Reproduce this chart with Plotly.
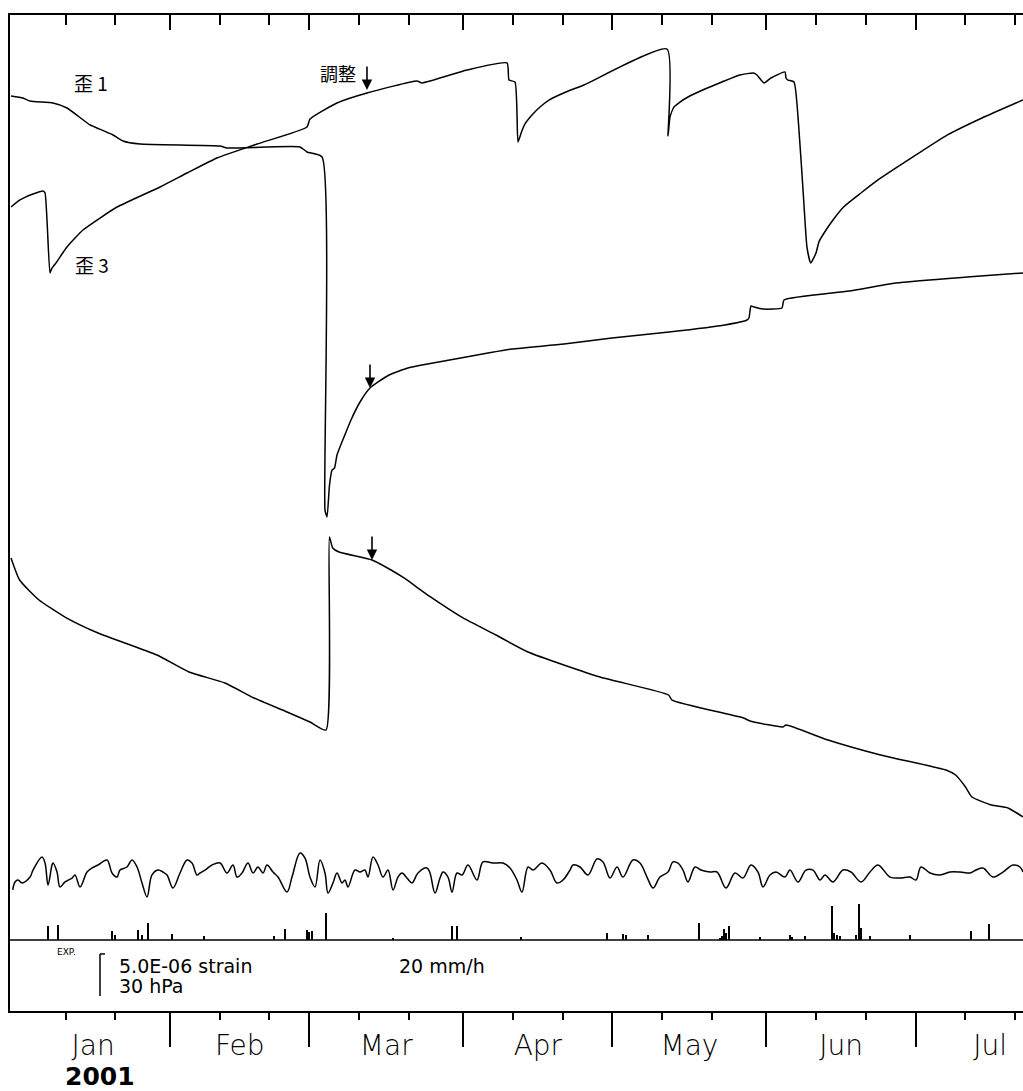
import pandas as pd
import plotly.graph_objects as go

BASE = pd.Timestamp("2001-01-01")

# ---- strain 1 (歪1): days since 2001-01-01, strain in 1e-6 ----
s1_day = [-1.0, 1.41, 2.82, 7.44, 10.26, 14.89, 16.30, 19.52, 21.53, 24.95,
          41.05, 42.45, 57.14, 58.55, 61.57, 62.17, 62.58, 63.08, 63.58, 64.08,
          64.59, 66.00, 67.40, 69.22, 71.23, 75.05, 78.87, 81.69, 94.97, 99.80,
          110.26, 119.92, 131.39, 142.66, 147.08, 147.48, 147.89, 148.49, 150.30, 154.12,
          154.53, 167.61, 177.06, 191.35, 202.62]
s1_val = [108.93, 108.69, 108.33, 108.10, 107.50, 105.48, 105.12, 104.29, 103.57, 103.21,
          102.98, 102.74, 102.86, 102.26, 101.67, 59.64, 58.81, 62.62, 64.40, 64.64,
          66.19, 68.33, 70.36, 72.50, 74.17, 75.71, 76.55, 76.90, 78.33, 78.81,
          79.40, 80.12, 80.83, 81.67, 82.26, 82.50, 83.93, 83.81, 83.57, 83.69,
          84.64, 85.71, 86.67, 87.38, 87.86]

# ---- strain 3 (歪3) ----
s3_day = [-1.0, 0.80, 3.42, 5.43, 5.84, 6.84, 7.24, 8.19, 9.26, 10.26,
          11.87, 13.48, 16.90, 20.32, 28.97, 34.41, 40.44, 48.49, 58.55, 59.15,
          64.59, 70.62, 80.68, 81.69, 90.74, 98.79, 99.20, 100.40, 101.01, 101.71,
          102.41, 103.82, 105.43, 107.24, 110.78, 114.29, 130.99, 131.19, 131.59, 132.39,
          133.60, 135.21, 138.63, 142.05, 145.67, 148.39, 149.09, 150.50, 151.91, 154.73,
          154.93, 155.33, 156.54, 157.44, 158.49, 159.15, 159.90, 160.97, 161.57, 162.98,
          164.39, 166.52, 170.02, 173.44, 180.48, 187.42, 194.37, 202.62]
s3_val = [95.71, 96.55, 97.26, 97.62, 97.38, 87.86, 88.45, 89.17, 90.12, 90.95,
          92.02, 92.98, 94.40, 95.71, 98.10, 99.76, 101.55, 103.21, 105.24, 106.19,
          108.10, 109.29, 110.71, 110.48, 112.02, 112.86, 110.83, 110.60, 103.45, 104.64,
          105.60, 106.67, 107.62, 108.45, 109.44, 110.24, 114.52, 104.17, 106.43, 107.62,
          108.21, 108.81, 109.76, 110.60, 111.43, 111.67, 111.43, 110.48, 111.07, 111.79,
          111.07, 110.83, 110.60, 105.71, 96.55, 90.95, 89.05, 90.24, 91.58, 92.98,
          94.17, 95.71, 97.38, 98.93, 101.67, 104.29, 106.31, 108.45]

# ---- strain 2 (unlabelled third component) ----
s2_day = [-1.0, 0.72, 4.63, 9.86, 16.50, 28.37, 34.81, 42.05, 47.89, 54.53,
          59.15, 62.37, 63.06, 63.72, 64.99, 71.63, 75.45, 78.07, 83.40, 89.94,
          96.58, 103.02, 117.51, 131.31, 131.99, 146.40, 147.69, 154.33, 154.93, 163.38,
          173.96, 187.12, 189.05, 191.05, 192.35, 196.28, 199.60, 202.62]
s2_val = [53.93, 51.31, 48.93, 46.90, 45.00, 42.38, 40.36, 39.05, 37.26, 35.60,
          34.40, 33.45, 56.43, 55.12, 54.64, 53.69, 52.50, 51.55, 49.29, 46.79,
          44.76, 42.74, 39.76, 37.62, 37.02, 34.88, 34.52, 33.81, 34.05, 32.26,
          30.48, 28.69, 28.10, 26.67, 25.48, 24.52, 24.17, 23.10]

# ---- atmospheric pressure, hPa ----
p_day = [-0.66, -0.20, 0.40, 1.21, 2.82, 3.42, 5.23, 5.84, 6.44, 7.24,
         7.44, 8.25, 8.85, 9.86, 11.27, 11.87, 12.88, 14.29, 15.29, 16.50,
         18.31, 19.32, 20.32, 20.93, 22.33, 23.34, 24.35, 25.35, 26.36, 27.36,
         28.57, 29.58, 30.38, 31.59, 33.00, 34.41, 35.41, 36.42, 37.02, 38.03,
         39.44, 41.05, 42.45, 43.66, 44.47, 45.47, 46.68, 47.69, 48.69, 49.70,
         50.50, 51.71, 52.72, 54.53, 55.53, 57.14, 58.15, 59.15, 60.16, 61.17,
         62.17, 62.78, 63.78, 64.59, 65.59, 66.20, 66.80, 68.21, 69.22, 70.22,
         70.82, 71.83, 72.84, 73.84, 74.85, 75.86, 76.86, 77.67, 78.67, 79.68,
         80.89, 82.70, 83.30, 84.31, 85.31, 85.92, 86.92, 87.73, 88.73, 89.74,
         90.95, 92.76, 93.96, 95.98, 97.99, 99.40, 100.80, 101.81, 103.02, 104.02,
         105.84, 107.44, 108.85, 110.06, 111.47, 112.07, 113.48, 115.09, 116.90, 118.11,
         119.52, 120.93, 122.13, 124.14, 125.55, 126.96, 128.17, 129.58, 131.19, 132.19,
         133.20, 134.21, 135.21, 136.62, 137.83, 139.64, 141.05, 142.86, 144.67, 146.28,
         147.89, 149.30, 150.30, 151.71, 152.92, 154.73, 155.73, 157.34, 158.95, 160.36,
         161.77, 162.78, 164.39, 166.40, 168.01, 170.02, 171.83, 173.44, 175.86, 177.87,
         179.88, 181.09, 182.09, 183.90, 185.92, 187.93, 189.94, 191.95, 193.16, 194.57,
         196.58, 198.59, 200.60, 202.01, 202.62]
p_val = [1000.9, 1006.6, 1008.0, 1005.9, 1010.1, 1015.1, 1024.4, 1020.1, 1004.4, 1018.7,
         1020.1, 1013.7, 1003.0, 1006.6, 1009.4, 1011.6, 1003.0, 1013.7, 1016.6, 1018.7,
         1022.3, 1013.0, 1010.1, 1015.1, 1017.3, 1022.3, 1017.3, 1005.9, 995.9, 1011.6,
         1015.1, 1013.7, 1011.6, 1002.3, 1013.0, 1022.3, 1020.1, 1011.6, 1013.0, 1015.1,
         1018.7, 1020.1, 1013.0, 1018.7, 1010.1, 1013.0, 1020.1, 1013.0, 1017.3, 1013.0,
         1018.7, 1013.7, 1010.1, 999.4, 1010.1, 1027.3, 1023.7, 1010.1, 1003.0, 1022.3,
         1013.0, 998.7, 1005.9, 1013.0, 1005.9, 1008.0, 1003.0, 1015.1, 1013.7, 1015.1,
         1010.1, 1024.4, 1018.7, 1010.1, 1015.1, 1000.9, 1010.1, 1013.0, 1009.4, 1005.9,
         1013.0, 1016.6, 1013.0, 998.7, 1009.4, 1013.7, 1010.1, 999.4, 1013.0, 1011.6,
         1018.7, 1008.0, 1020.9, 1020.1, 1020.1, 1016.6, 1008.0, 999.4, 1017.3, 1015.1,
         1020.1, 1015.1, 1005.9, 1008.0, 1015.1, 1018.7, 1017.3, 1011.6, 1023.0, 1020.9,
         1009.4, 1017.3, 1010.1, 1022.3, 1020.1, 1010.1, 1002.3, 1010.1, 1013.7, 1020.9,
         1020.1, 1015.1, 1006.6, 1017.3, 1015.1, 1013.7, 1013.7, 1002.3, 1013.0, 1009.4,
         1018.7, 1013.7, 1003.0, 1011.6, 1013.7, 1010.1, 1015.1, 1006.6, 1015.1, 1015.1,
         1008.0, 1011.6, 1006.6, 1015.1, 1013.7, 1006.6, 1013.7, 1018.7, 1010.1, 1009.4,
         1010.1, 1008.0, 1017.3, 1013.0, 1011.6, 1013.7, 1013.7, 1013.0, 1015.1, 1016.6,
         1010.1, 1013.7, 1018.7, 1017.3, 1013.7]

# ---- rainfall, mm/h ----
r_day = [6.44, 8.45, 19.32, 19.92, 24.55, 25.35, 26.56, 31.39, 37.83, 51.91,
         54.12, 58.55, 58.95, 59.56, 62.37, 75.86, 87.73, 88.73, 101.61, 118.91,
         122.13, 122.74, 127.16, 137.42, 141.65, 142.05, 142.45, 142.86, 143.46, 149.70,
         155.73, 156.14, 158.75, 164.19, 164.59, 165.19, 165.79, 169.01, 169.62, 170.02,
         171.83, 179.88, 192.15, 195.77]
r_val = [6.7, 7.1, 4.3, 2.4, 4.8, 2.4, 8.1, 2.9, 1.9, 1.9,
         5.2, 4.8, 3.8, 4.3, 12.9, 1.0, 6.7, 6.7, 1.4, 3.3,
         2.9, 2.4, 2.4, 8.1, 1.0, 1.9, 5.2, 3.3, 6.7, 1.4,
         2.4, 1.4, 1.9, 16.2, 3.3, 2.4, 1.9, 2.4, 17.1, 5.7,
         1.9, 2.4, 4.3, 7.6]

month_labels_start = "2001-01-01"
month_ticks = ["2001-02-01", "2001-03-01", "2001-04-01", "2001-05-01", "2001-06-01", "2001-07-01"]
arrow_days = [70.62, 71.23, 71.63]          # 調整 markers
arrow_vals = [109.64, 74.17, 53.69]

assert len(s3_day) == len(s3_val) and len(p_day) == len(p_val) and len(r_day) == len(r_val)


def dates(days):
    return [BASE + pd.Timedelta(days=d) for d in days]


def dstr(d):
    return (BASE + pd.Timedelta(days=d)).strftime("%Y-%m-%d %H:%M:%S")


X_RANGE = [dstr(-1.21), dstr(202.62)]
minor_vals = []
for m in range(1, 8):
    for dd in (11, 21):
        minor_vals.append(f"2001-{m:02d}-{dd:02d}")

LINE = dict(color="black", width=1.5)
SLINE = dict(color="black", width=1.5, shape="spline", smoothing=0.5)
FONT = "DejaVu Sans"

fig = go.Figure()
fig.add_trace(go.Scatter(x=dates(s1_day), y=s1_val, mode="lines", line=SLINE, name="歪1"))
fig.add_trace(go.Scatter(x=dates(s3_day), y=s3_val, mode="lines", line=SLINE, name="歪3"))
fig.add_trace(go.Scatter(x=dates(s2_day), y=s2_val, mode="lines", line=SLINE, name="歪2"))
fig.add_trace(go.Scatter(x=dates(p_day), y=p_val, mode="lines", yaxis="y2", name="気圧",
                         line=dict(color="black", width=1.5, shape="spline", smoothing=1.0)))
fig.add_trace(go.Bar(x=dates(r_day), y=r_val, width=0.3 * 86400000, yaxis="y3",
                     marker=dict(color="black", line=dict(width=0)), name="雨量"))
# invisible helpers so the overlay axes are drawn
for xa in ("x2", "x3"):
    fig.add_trace(go.Scatter(x=[X_RANGE[0]], y=[0], xaxis=xa, mode="markers",
                             marker=dict(opacity=0), hoverinfo="skip", showlegend=False))

ann = []
txt = dict(family=FONT, size=19, color="black")
cjk = dict(family="Noto Sans CJK JP", size=19, color="black")
ann.append(dict(x=dstr(11.27), y=110.48, text="歪 1", showarrow=False, xanchor="left", yanchor="middle", font=cjk))
ann.append(dict(x=dstr(11.47), y=88.81, text="歪 3", showarrow=False, xanchor="left", yanchor="middle", font=cjk))
ann.append(dict(x=dstr(60.76), y=111.67, text="調整", showarrow=False, xanchor="left", yanchor="middle",
                font=dict(family="Noto Sans CJK JP", size=18, color="black")))
for d, v in zip(arrow_days, arrow_vals):
    ann.append(dict(x=dstr(d), y=v, text="", showarrow=True, ax=0, ay=-25, arrowhead=2,
                    arrowsize=1.3, arrowwidth=1.6, arrowcolor="black", standoff=0))
ann.append(dict(x=dstr(7.85), y=7.02, text="EXP.", showarrow=False, xanchor="left", yanchor="middle",
                font=dict(family=FONT, size=9, color="black")))
ann.append(dict(x=dstr(20.32), y=5.36, text="5.0E-06 strain", showarrow=False, xanchor="left",
                yanchor="middle", font=txt))
ann.append(dict(x=dstr(20.32), y=2.98, text="30 hPa", showarrow=False, xanchor="left",
                yanchor="middle", font=txt))
ann.append(dict(x=dstr(76.66), y=5.36, text="20 mm/h", showarrow=False, xanchor="left",
                yanchor="middle", font=txt))
ann.append(dict(x=dstr(9.46), xref="x", y=-0.0653, yref="paper", text="<b>2001</b>", showarrow=False,
                xanchor="left", yanchor="middle", font=dict(family=FONT, size=25, color="black")))

shapes = [
    # scale bar: 5.0E-06 strain / 30 hPa
    dict(type="line", xref="x", yref="y", x0=dstr(16.9), x1=dstr(16.9), y0=1.79, y1=6.79, line=LINE),
    dict(type="line", xref="x", yref="y", x0=dstr(16.9), x1=dstr(17.9), y0=6.79, y1=6.79, line=LINE),
    # rainfall baseline
    dict(type="line", xref="paper", yref="y3", x0=0, x1=1, y0=0, y1=0, line=LINE),
]

fig.update_layout(
    width=1023, height=1091,
    margin=dict(l=10, r=0, t=15, b=80),
    plot_bgcolor="white", paper_bgcolor="white",
    showlegend=False, bargap=0,
    xaxis=dict(type="date", range=X_RANGE, showline=True, linecolor="black", linewidth=1.5,
               ticks="outside", ticklen=34, tickwidth=1.5, tickcolor="black",
               tickmode="array", tickvals=month_ticks,
               showticklabels=False, showgrid=False, zeroline=False,
               minor=dict(ticks="outside", ticklen=7, tickwidth=1.5, tickcolor="black",
                          tickmode="array", tickvals=minor_vals, showgrid=False)),
    xaxis2=dict(type="date", range=X_RANGE, overlaying="x", side="bottom", anchor="y",
                ticks="outside", ticklen=9, tickcolor="rgba(0,0,0,0)",
                tickmode="linear", tick0=month_labels_start, dtick="M1",
                ticklabelmode="period", tickformat="%b",
                tickfont=dict(family=FONT, size=28, color="black", weight=200),
                showgrid=False, showline=False, zeroline=False),
    xaxis3=dict(type="date", range=X_RANGE, overlaying="x", side="top", anchor="y",
                ticks="inside", ticklen=15, tickwidth=1.5, tickcolor="black",
                tickmode="array", tickvals=month_ticks,
                showticklabels=False, showgrid=False, zeroline=False,
                showline=True, linecolor="black", linewidth=1.5,
                minor=dict(ticks="inside", ticklen=10, tickwidth=1.5, tickcolor="black",
                           tickmode="array", tickvals=minor_vals, showgrid=False)),
    yaxis=dict(range=[0, 118.571], showline=True, linecolor="black", linewidth=1.5,
               ticks="", showticklabels=False, showgrid=False, zeroline=False),
    yaxis2=dict(range=[914.43, 1625.86], overlaying="y", visible=False),
    yaxis3=dict(range=[-33.81, 440.48], overlaying="y", visible=False),
    annotations=ann,
    shapes=shapes,
)

fig.write_html("out.html", config={"displayModeBar": False},
               post_script="document.body.style.margin='0';document.body.style.overflow='hidden';")
